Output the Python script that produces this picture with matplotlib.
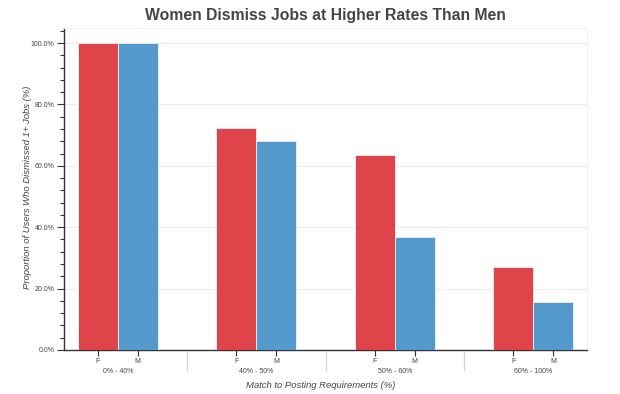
import numpy as np
import matplotlib.pyplot as plt
from matplotlib.ticker import FuncFormatter, MultipleLocator

''' Data '''
groups = ['0% - 40%', '40% - 50%', '50% - 60%', '60% - 100%']
genders = ['F', 'M']
female = [100.0, 72.4, 63.4, 27.0]
male = [100.0, 68.2, 36.7, 15.5]

''' Plot '''
plt.rcParams["font.family"] = "Liberation Sans"

c_f = '#e0444b'
c_m = '#5399cb'
txt = '#444444'

fig = plt.figure(figsize=(6.2, 3.94), dpi=100)
ax = fig.add_axes([64 / 620, 44 / 394, 523 / 620, 322 / 394])

step = 3.47
centers = np.arange(len(groups)) * step
ax.bar(centers - 0.5, female, width=1.0, color=c_f, edgecolor='#f0f0f0', linewidth=0.6, zorder=3)
ax.bar(centers + 0.5, male, width=1.0, color=c_m, edgecolor='#f0f0f0', linewidth=0.6, zorder=3)

ax.set_xlim(-1.35, centers[-1] + 1.35)
ax.set_ylim(0, 104.9)

# y axis
ax.yaxis.set_major_locator(MultipleLocator(20))
ax.yaxis.set_minor_locator(MultipleLocator(4))
ax.yaxis.set_major_formatter(FuncFormatter(lambda v, p: '%.1f%%' % v))
ax.tick_params(axis='y', which='major', length=5, width=0.8, labelsize=5, labelcolor=txt, color='#333333', pad=2)
ax.tick_params(axis='y', which='minor', length=3, width=0.8, color='#333333')
ax.grid(True, axis='y', color='#ececec', linewidth=0.8)
ax.set_axisbelow(True)

# x axis: F / M ticks
xt = np.concatenate([[c - 0.5, c + 0.5] for c in centers])
ax.set_xticks(xt, genders * len(groups))
ax.tick_params(axis='x', length=4, width=0.8, labelsize=5, labelcolor=txt, color='#333333', pad=1.5)

for i, g in enumerate(groups):
    ax.text(centers[i], -6.9, g, ha='center', va='center', fontsize=5, color=txt,
            transform=ax.transData, clip_on=False)
for i in range(len(groups) - 1):
    xm = (centers[i] + centers[i + 1]) / 2
    ax.plot([xm, xm], [-0.8, -6.5], color='#d5d5d5', linewidth=0.9, clip_on=False)

for s in ['top', 'right']:
    ax.spines[s].set_color('#f0f0f0')
    ax.spines[s].set_linewidth(0.8)
for s in ['left', 'bottom']:
    ax.spines[s].set_color('#333333')
    ax.spines[s].set_linewidth(1.0)

ax.set_ylabel('Proportion of Users Who Dismissed 1+ Jobs (%)', fontsize=6.8, style='italic', color=txt)
ax.yaxis.set_label_coords(-0.062, 0.505)
ax.set_xlabel('Match to Posting Requirements (%)', fontsize=6.8, style='italic', color=txt)
ax.xaxis.set_label_coords(0.49, -0.109)
ax.xaxis.label.set_va('center')
ax.set_title('Women Dismiss Jobs at Higher Rates Than Men', fontsize=11.3, fontweight='bold', color=txt, pad=6)

fig.savefig('out.png', dpi=100)
